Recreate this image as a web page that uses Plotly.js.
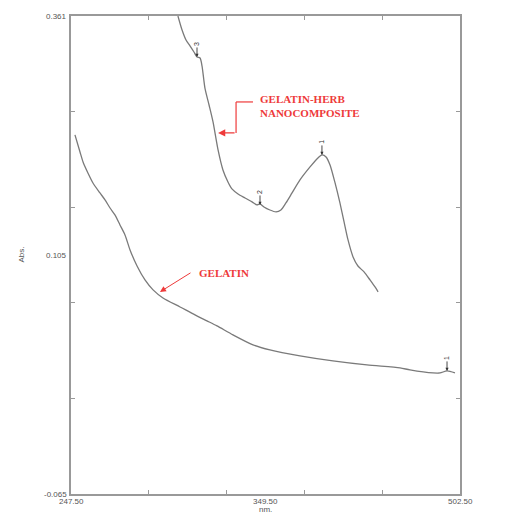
<!DOCTYPE html>
<html>
<head>
<meta charset="utf-8">
<script src="https://cdn.plot.ly/plotly-3.0.1.min.js"></script>
<style>html,body{margin:0;padding:0;background:#fff;}#chart{width:513px;height:517px;}</style>
</head>
<body>
<div id="chart"></div>
<script>
// Wavelength (nm) and absorbance
const gelatinNm = [250.1,253.4,255.4,258.6,261.9,266.5,269.8,273.1,276.3,279.6,282.9,286.2,290.8,296.0,301.3,307.8,319.0,328.8,336.6,343.2,353.7,366.8,377.9,397.6,419.2,441.5,463.2,469.7,484.8,489.4,494.0,499.2];
const gelatinAbs = [0.255,0.2398,0.2309,0.2211,0.2122,0.2033,0.1971,0.1899,0.1837,0.1748,0.1659,0.1525,0.1382,0.1258,0.1169,0.1097,0.1017,0.0946,0.0893,0.0848,0.0768,0.0679,0.0634,0.0581,0.0536,0.0500,0.0474,0.0456,0.0429,0.0429,0.0447,0.0429];

const compositeNm = [317.6,320.3,322.9,325.5,328.1,330.1,332.1,333.4,335.3,338.0,340.6,343.9,347.1,350.4,353.0,357.0,361.6,366.2,369.4,371.4,374.0,377.9,381.9,385.1,388.4,392.4,397.6,404.2,409.4,412.0,414.7,417.3,420.6,423.8,426.5,429.1,432.4,435.6,439.6,443.5,446.8,448.8];
const compositeAbs = [0.361,0.3485,0.3396,0.3343,0.3289,0.3245,0.3236,0.3164,0.2968,0.2817,0.2666,0.2416,0.2238,0.2131,0.2069,0.2024,0.1988,0.1953,0.1926,0.1935,0.1908,0.1881,0.1864,0.1881,0.1944,0.2033,0.2149,0.2265,0.2345,0.2372,0.2354,0.2282,0.2122,0.1944,0.1775,0.1614,0.1463,0.1382,0.1329,0.1258,0.1195,0.1151];

// Peak markers
const peakNm = [412.0, 371.4, 330.1, 494.0];
const peakAbs = [0.2372, 0.1926, 0.3245, 0.0447];
const peakLabels = ['1', '2', '3', '1'];

// Axis labels (as printed on the reference)
const xLabelPos = [247.5, 375, 502.5];
const xLabelText = ['247.50', '349.50', '502.50'];
const yLabelPos = [0.361, 0.148, -0.065];
const yLabelText = ['0.361', '0.105', '-0.065'];
const xTickVals = [298.5, 349.5, 400.5, 451.5];
const yTickVals = [0.2758, 0.1906, 0.1054, 0.0202];

const xRange = [247.5, 502.5];
const yRange = [-0.065, 0.361];

const lineStyle = {color: '#7a7a7a', width: 1.3, shape: 'spline', smoothing: 0.7};
const traces = [
  {x: gelatinNm, y: gelatinAbs, mode: 'lines', line: lineStyle, hoverinfo: 'skip', name: 'GELATIN'},
  {x: compositeNm, y: compositeAbs, mode: 'lines', line: lineStyle, hoverinfo: 'skip', name: 'GELATIN-HERB NANOCOMPOSITE'}
];

const tickFont = {family: 'Liberation Sans, Arial, sans-serif', size: 8, color: '#555'};
const red = '#ee3a3a';
const annotations = [];
xLabelPos.forEach((v, i) => annotations.push({x: v, xref: 'x', y: 0, yref: 'paper', yanchor: 'top', yshift: -1, text: xLabelText[i], showarrow: false, font: tickFont}));
yLabelPos.forEach((v, i) => annotations.push({x: 0, xref: 'paper', xanchor: 'right', xshift: -2, y: v, yref: 'y', text: yLabelText[i], showarrow: false, font: tickFont}));
annotations.push({x: 0.5, xref: 'paper', y: 0, yref: 'paper', yanchor: 'top', yshift: -9, text: 'nm.', showarrow: false, font: tickFont});
annotations.push({x: 0, xref: 'paper', xshift: -57, y: 0.5, yref: 'paper', text: 'Abs.', textangle: -90, showarrow: false, font: tickFont});
peakNm.forEach((v, i) => annotations.push({x: v, y: peakAbs[i], xref: 'x', yref: 'y', text: peakLabels[i], textangle: -90, showarrow: true, ax: 0, ay: -13, arrowhead: 2, arrowsize: 0.7, arrowwidth: 0.9, arrowcolor: '#333', font: {family: 'Liberation Sans, Arial, sans-serif', size: 7, color: '#333'}, standoff: 0}));
const serif = {family: 'Liberation Serif, Times New Roman, serif', size: 11, color: red, weight: 'bold'};
annotations.push({x: 370.1, y: 0.2808, xref: 'x', yref: 'y', xanchor: 'left', align: 'left', text: '<b>GELATIN-HERB<br>NANOCOMPOSITE</b>', showarrow: false, font: serif});
annotations.push({x: 343.9, y: 0.2568, ax: 355.7, ay: 0.2568, xref: 'x', yref: 'y', axref: 'x', ayref: 'y', text: '', showarrow: true, arrowhead: 2, arrowsize: 1.2, arrowwidth: 1.2, arrowcolor: red});
annotations.push({x: 330.1, y: 0.132, xref: 'x', yref: 'y', xanchor: 'left', text: '<b>GELATIN</b>', showarrow: false, font: serif});
annotations.push({x: 305.8, y: 0.1151, ax: 326.8, ay: 0.1329, xref: 'x', yref: 'y', axref: 'x', ayref: 'y', text: '', showarrow: true, arrowhead: 2, arrowsize: 1.2, arrowwidth: 1, arrowcolor: red});

const shapes = [
  {type: 'line', xref: 'x', yref: 'y', x0: 366.8, y0: 0.2844, x1: 355.7, y1: 0.2844, line: {color: red, width: 1.2}},
  {type: 'line', xref: 'x', yref: 'y', x0: 355.7, y0: 0.2844, x1: 355.7, y1: 0.2568, line: {color: red, width: 1.2}}
];

const axisCommon = {showgrid: false, zeroline: false, showline: true, linecolor: '#999', linewidth: 2, mirror: 'ticks', ticks: 'inside', ticklen: 4, tickcolor: '#999', tickwidth: 1, showticklabels: false, tickmode: 'array'};
const layout = {
  width: 513, height: 517,
  margin: {l: 71, r: 53, t: 16, b: 23},
  paper_bgcolor: '#fff', plot_bgcolor: '#fff',
  showlegend: false,
  xaxis: Object.assign({}, axisCommon, {range: xRange, tickvals: xTickVals}),
  yaxis: Object.assign({}, axisCommon, {range: yRange, tickvals: yTickVals}),
  annotations: annotations,
  shapes: shapes
};
Plotly.newPlot('chart', traces, layout, {staticPlot: true, displayModeBar: false});
</script>
</body>
</html>
